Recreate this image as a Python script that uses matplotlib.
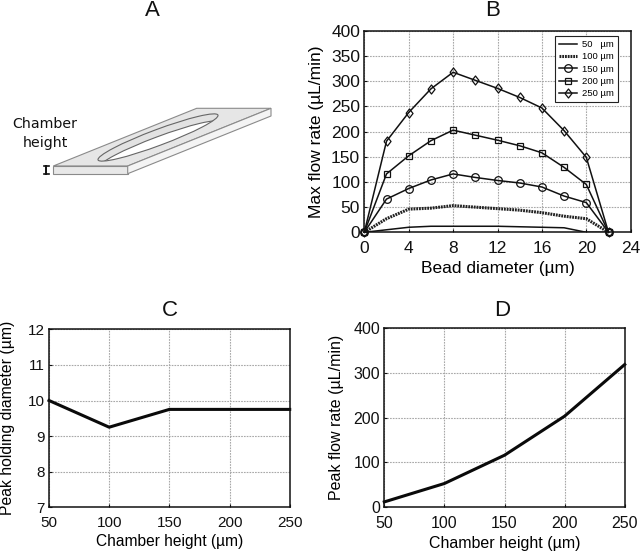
import matplotlib
matplotlib.use("Agg")
import matplotlib.pyplot as plt
from matplotlib.patches import Polygon, Ellipse

plt.rcParams['font.family'] = ['Liberation Sans', 'DejaVu Sans']

bead_diameter = [0, 2, 4, 6, 8, 10, 12, 14, 16, 18, 20, 22]
flow_50 = [0, 5, 10, 12, 12, 12, 12, 11, 10, 9, 0, 0]
flow_100 = [0, 27, 46, 48, 53, 50, 47, 44, 39, 32, 27, 0]
flow_150 = [0, 66, 87, 104, 116, 109, 103, 98, 90, 72, 59, 0]
flow_200 = [0, 116, 152, 182, 203, 193, 183, 172, 158, 129, 95, 0]
flow_250 = [0, 181, 238, 285, 318, 302, 286, 268, 247, 202, 149, 0]
legend_labels = ['50   µm', '100 µm', '150 µm', '200 µm', '250 µm']

chamber_height = [50, 100, 150, 200, 250]
peak_diameter = [10, 9.25, 9.75, 9.75, 9.75]
peak_flow = [12, 53, 116, 203, 318]

W, H = 640, 554
fig = plt.figure(figsize=(W / 100, H / 100), dpi=100, facecolor='white')


def make_axes(l, t, r, b):
    ax = fig.add_axes([l / W, 1 - b / H, (r - l) / W, (b - t) / H])
    ax.grid(True, color='#a8a8a8', linestyle=(0, (1.5, 1)), linewidth=0.8)
    ax.set_axisbelow(True)
    for s in ax.spines.values():
        s.set_linewidth(1.1)
        s.set_color('#111111')
    ax.tick_params(direction='in', length=2.5, width=0.8, labelsize=12,
                   colors='#111111', pad=3)
    ax.tick_params(axis='x', pad=6)
    return ax


# Panel B
axb = make_axes(364.3, 31, 630.7, 232.3)
axb.plot(bead_diameter, flow_50, color='#111111', lw=1.1, label=legend_labels[0])
axb.plot(bead_diameter, flow_100, color='#222222', lw=2.2, ls=(0, (0.6, 0.3)), label=legend_labels[1])
mk = dict(color='#111111', lw=1.1, mfc='none', mec='#111111', mew=0.9, clip_on=False)
diamond = [(-0.78, 0), (0, 1), (0.78, 0), (0, -1), (-0.78, 0)]
axb.plot(bead_diameter, flow_150, marker='o', ms=5.5, label=legend_labels[2], **mk)
axb.plot(bead_diameter, flow_200, marker='s', ms=4.5, label=legend_labels[3], **mk)
axb.plot(bead_diameter, flow_250, marker=diamond, ms=6.5, label=legend_labels[4], **mk)
axb.set_xlim(0, 24)
axb.set_ylim(0, 400)
axb.set_xticks(range(0, 25, 4))
axb.set_yticks(range(0, 401, 50))
axb.tick_params(labelsize=12.5)
axb.set_xlabel('Bead diameter (µm)', fontsize=12.5, labelpad=4)
axb.set_ylabel('Max flow rate (µL/min)', fontsize=12.5, labelpad=5)
leg = axb.legend(loc='upper left',
                 bbox_to_anchor=((554.7 - 364.3) / 266.4, 1 - (35.7 - 31) / 201.3),
                 fontsize=6.8, frameon=True, fancybox=False, framealpha=1,
                 edgecolor='#222222', borderaxespad=0, borderpad=0.45,
                 labelspacing=0.35, handlelength=1.9, handletextpad=0.55)
leg.get_frame().set_linewidth(0.8)

# Panel C
axc = make_axes(49, 329.3, 289.7, 507.3)
axc.plot(chamber_height, peak_diameter, color='#0a0a0a', lw=2.2, clip_on=False)
axc.set_xlim(50, 250)
axc.set_ylim(7, 12)
axc.set_xticks(chamber_height)
axc.set_yticks(range(7, 13))
axc.tick_params(labelsize=11)
axc.set_xlabel('Chamber height (µm)', fontsize=11.2, labelpad=3)
axc.set_ylabel('Peak holding diameter (µm)', fontsize=11.3, labelpad=9)

# Panel D
axd = make_axes(384.3, 327.7, 624.7, 507.3)
axd.plot(chamber_height, peak_flow, color='#0a0a0a', lw=2.2, clip_on=False)
axd.set_xlim(50, 250)
axd.set_ylim(0, 400)
axd.set_xticks(chamber_height)
axd.set_yticks(range(0, 401, 100))
axd.tick_params(labelsize=11.5)
axd.set_xlabel('Chamber height (µm)', fontsize=11.5, labelpad=4)
axd.set_ylabel('Peak flow rate (µL/min)', fontsize=11.5, labelpad=7)

# Overlay in pixel coordinates: panel letters and schematic A
ov = fig.add_axes([0, 0, 1, 1], facecolor='none')
ov.set_xlim(0, W)
ov.set_ylim(H, 0)
ov.axis('off')
for letter, x, y in [('A', 152, 11), ('B', 493, 10), ('C', 170, 310), ('D', 502.5, 310)]:
    ov.text(x, y, letter, fontsize=16, ha='center', va='center', color='#111111')

edge = '#8a8a8a'
ov.add_patch(Polygon([(53.3, 166), (196.7, 108.3), (271, 108.3), (127.7, 166)],
                     fc='#e6e6e6', ec=edge, lw=0.8))
ov.add_patch(Polygon([(53.3, 166), (127.7, 166), (127.7, 173.7), (53.3, 173.7)],
                     fc='#e8e8e8', ec=edge, lw=0.8))
ov.add_patch(Polygon([(127.7, 166), (271, 108.3), (271, 116), (127.7, 173.7)],
                     fc='#f4f4f4', ec=edge, lw=0.8))
outer = Ellipse((158, 137.5), 128, 16, angle=-20.5, fc='#e2e2e2', ec='none')
ov.add_patch(outer)
hole = Ellipse((159.5, 144.5), 128, 16, angle=-20.5, fc='white', ec='#666666', lw=0.8)
ov.add_patch(hole)
hole.set_clip_path(outer)
ov.add_patch(Ellipse((158, 137.5), 128, 16, angle=-20.5, fc='none', ec='#666666', lw=0.8))
ov.text(44.5, 124, 'Chamber', fontsize=10.2, ha='center', va='center', color='#111111',
        family=['DejaVu Sans'])
ov.text(45, 143, 'height', fontsize=10.2, ha='center', va='center', color='#111111',
        family=['DejaVu Sans'])
ov.plot([46, 46], [166, 174], color='#111111', lw=1.4)
ov.plot([43.5, 48.5], [166, 166], color='#111111', lw=1.2)
ov.plot([43.5, 48.5], [174, 174], color='#111111', lw=1.2)

fig.savefig('out.png', dpi=100, facecolor='white')
